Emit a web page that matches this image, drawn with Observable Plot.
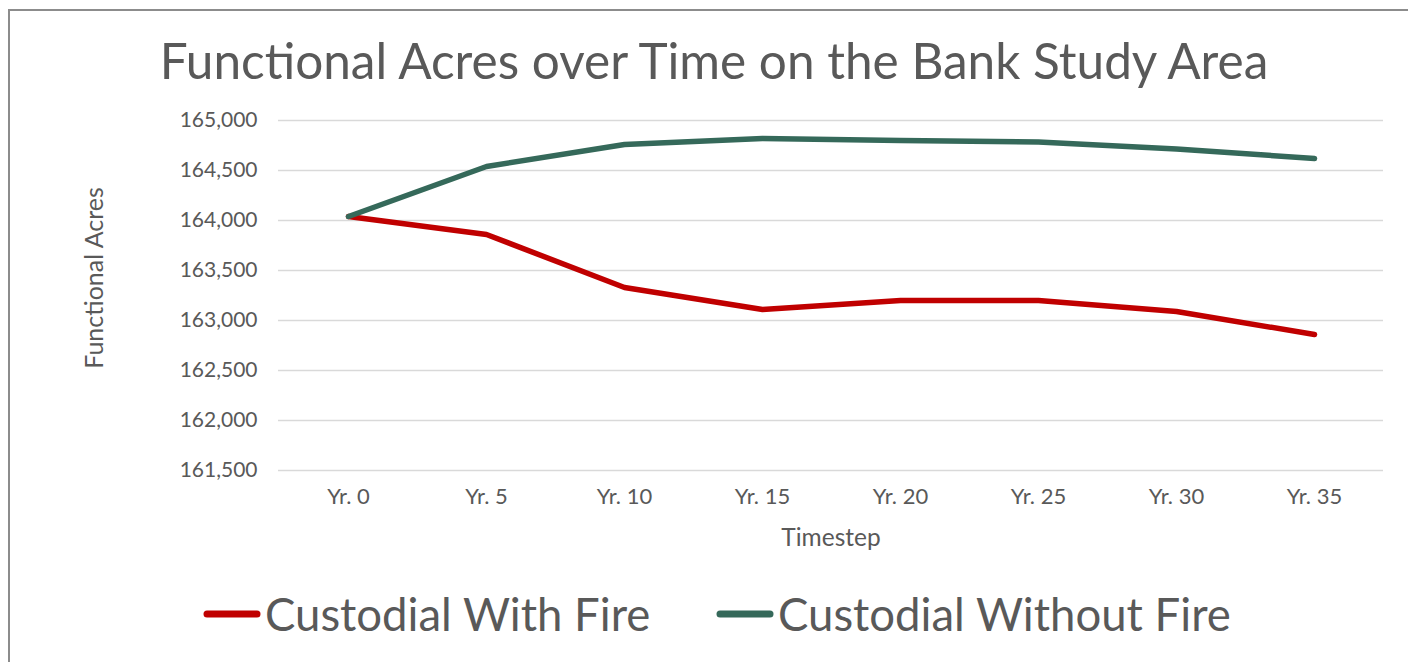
<!DOCTYPE html>
<html>
<head>
<meta charset="utf-8">
<script src="https://cdn.jsdelivr.net/npm/d3@7"></script>
<script src="https://cdn.jsdelivr.net/npm/@observablehq/plot@0.6"></script>
<style>
  html, body { margin: 0; padding: 0; background: #fff; }
  body { width: 1408px; height: 662px; position: relative; overflow: hidden; font-family: Lato, "Noto Sans", sans-serif; color: #595959; }
  #frame { position: absolute; left: 8px; top: 9px; width: 1500px; height: 760px; border: 2px solid #8c8c8c; box-sizing: border-box; }
  #title { position: absolute; left: 0; width: 1428px; top: 36px; text-align: center; font-size: 49.5px; line-height: 49.5px; white-space: nowrap; }
  #ylabel { position: absolute; left: 93px; top: 278px; transform: translate(-50%, -50%) rotate(-90deg); font-size: 25px; white-space: nowrap; }
  #chart { position: absolute; left: 0; top: 0; }
  .legend-item { position: absolute; top: 587px; display: flex; align-items: center; font-size: 45.5px; line-height: 54px; white-space: nowrap; }
  .legend-item svg { margin-right: 4px; }
</style>
</head>
<body>
<div id="frame"></div>
<div id="chart"></div>
<div id="title"></div>
<div id="ylabel"></div>
<div id="legend"></div>
<script>
// Timesteps along the x axis
const timesteps = ["Yr. 0", "Yr. 5", "Yr. 10", "Yr. 15", "Yr. 20", "Yr. 25", "Yr. 30", "Yr. 35"];

// Functional acres per timestep for each scenario
const withFire = [164040, 163860, 163330, 163110, 163200, 163200, 163090, 162860];
const withoutFire = [164040, 164540, 164760, 164820, 164800, 164785, 164715, 164620];

const seriesNames = ["Custodial With Fire", "Custodial Without Fire"];
const seriesColors = ["#c00000", "#35695a"];

const yTicks = [161500, 162000, 162500, 163000, 163500, 164000, 164500, 165000];

const titleText = "Functional Acres over Time on the Bank Study Area";
const yLabel = "Functional Acres";
const xLabel = "Timestep";

// Long-format table for the line mark
const rows = [];
[withFire, withoutFire].forEach((values, i) => {
  values.forEach((v, j) => rows.push({series: seriesNames[i], step: timesteps[j], value: v}));
});

const fmt = d3.format(",");

const chart = Plot.plot({
  width: 1408,
  height: 560,
  marginLeft: 278,
  marginRight: 25,
  marginTop: 120,
  marginBottom: 90,
  style: {background: "transparent", fontFamily: "Lato, 'Noto Sans', sans-serif", fontSize: "21px", color: "#595959", overflow: "visible"},
  x: {type: "point", domain: timesteps, padding: 0.5},
  y: {domain: [161500, 165000]},
  color: {domain: seriesNames, range: seriesColors},
  marks: [
    Plot.gridY(yTicks, {stroke: "#d9d9d9", strokeOpacity: 1, strokeWidth: 1.6}),
    Plot.axisY(yTicks, {tickSize: 0, tickPadding: 21, tickFormat: fmt, label: null, fontSize: 21}),
    Plot.axisX({tickSize: 0, tickPadding: 18, fontSize: 22, label: null}),
    Plot.axisX({ticks: [], tickSize: 0, label: xLabel, labelAnchor: "center", labelArrow: "none", labelOffset: 75, fontSize: 24.5}),
    Plot.line(rows, {x: "step", y: "value", z: "series", stroke: "series", strokeWidth: 5.5, strokeLinecap: "round", strokeLinejoin: "round"})
  ]
});
document.getElementById("chart").appendChild(chart);

document.getElementById("title").textContent = titleText;
document.getElementById("ylabel").textContent = yLabel;

// Legend: line swatch followed by series name
const legendLeft = [203, 716];
const legend = document.getElementById("legend");
seriesNames.forEach((name, i) => {
  const item = document.createElement("div");
  item.className = "legend-item";
  item.style.left = legendLeft[i] + "px";
  item.innerHTML = `<svg width="58" height="10"><line x1="4" y1="5" x2="54" y2="5" stroke="${seriesColors[i]}" stroke-width="7" stroke-linecap="round"/></svg><span></span>`;
  item.querySelector("span").textContent = name;
  legend.appendChild(item);
});
</script>
</body>
</html>
